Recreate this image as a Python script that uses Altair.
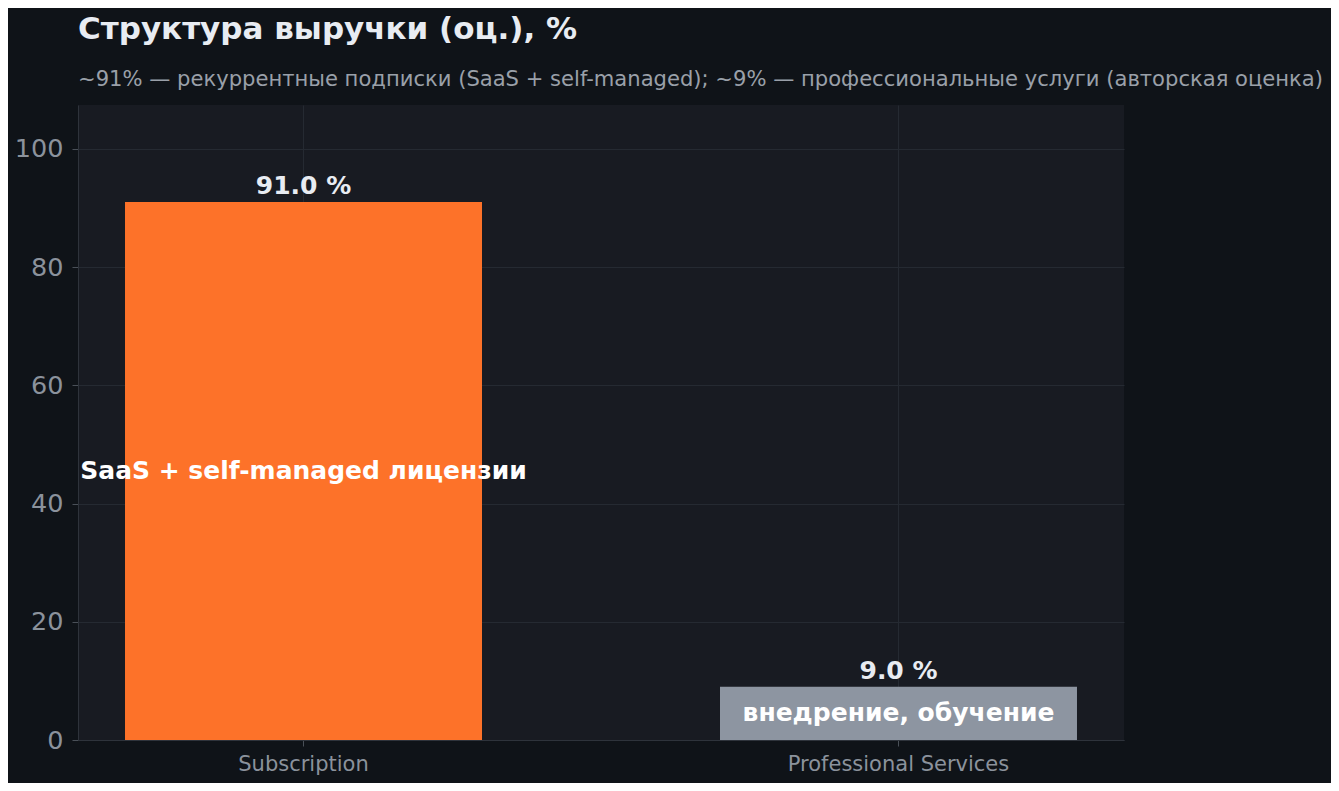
import altair as alt
import pandas as pd

categories = ["Subscription", "Professional Services"]
shares = [91.0, 9.0]
inner_labels = ["SaaS + self-managed лицензии", "внедрение, обучение"]
bar_colors = ["#fd7229", "#8d95a1"]
y_ticks = [0, 20, 40, 60, 80, 100]

title_text = "Структура выручки (оц.), %"
subtitle_text = "~91% — рекуррентные подписки (SaaS + self-managed); ~9% — профессиональные услуги (авторская оценка)"

df = pd.DataFrame({
    "cat": categories,
    "share": shares,
    "inner": inner_labels,
    "color": bar_colors,
})
df["top_label"] = [f"{v:.1f} %" for v in shares]
df["mid"] = [v / 2 for v in shares]

FONT = "DejaVu Sans"

x_enc = alt.X(
    "cat:N",
    sort=categories,
    scale=alt.Scale(paddingInner=0.4, paddingOuter=0.079),
    axis=alt.Axis(
        title=None, labelAngle=0, grid=True, gridColor="#252a32",
        domainColor="#2e333b", tickColor="#4a5058", tickSize=6,
        labelColor="#8b929c", labelFontSize=21, labelFont=FONT, labelPadding=7,
        labelLimit=0,
    ),
)
y_scale = alt.Scale(domain=[0, 107.4], nice=False, zero=True)

base = alt.Chart(df)

bars = base.mark_bar().encode(
    x=x_enc,
    y=alt.Y(
        "share:Q",
        scale=y_scale,
        axis=alt.Axis(
            title=None, values=y_ticks, grid=True, gridColor="#252a32",
            domainColor="#2e333b", tickColor="#4a5058", tickSize=6,
            labelColor="#8b929c", labelFontSize=25.5, labelFont=FONT, labelPadding=9,
        ),
    ),
    color=alt.Color("color:N", scale=None, legend=None),
)

top_text = base.mark_text(
    baseline="bottom", dy=-3, fontSize=25, fontWeight="bold", font=FONT, color="#e8ecf2"
).encode(x=x_enc, y=alt.Y("share:Q", scale=y_scale), text="top_label:N")

mid_text = base.mark_text(
    baseline="middle", fontSize=25, fontWeight="bold", font=FONT, color="#ffffff"
).encode(x=x_enc, y=alt.Y("mid:Q", scale=y_scale), text="inner:N")

chart = (
    alt.layer(bars, top_text, mid_text)
    .properties(
        width=1046,
        height=635,
        autosize=alt.AutoSizeParams(type="none"),
        padding={"left": 70, "top": 97, "right": 207, "bottom": 43},
        background="#0f1318",
        title=alt.Title(
            text=title_text,
            subtitle=subtitle_text,
            anchor="start",
            frame="group",
            font=FONT,
            fontSize=31,
            fontWeight="bold",
            color="#e8ecf2",
            subtitleFont=FONT,
            subtitleFontSize=21.1,
            subtitleColor="#9aa0a9",
            subtitlePadding=23,
            offset=14,
        ),
    )
    .configure_view(fill="#181b22", stroke=None)
)

chart.save("out.html", embed_options={"renderer": "svg", "actions": False})
